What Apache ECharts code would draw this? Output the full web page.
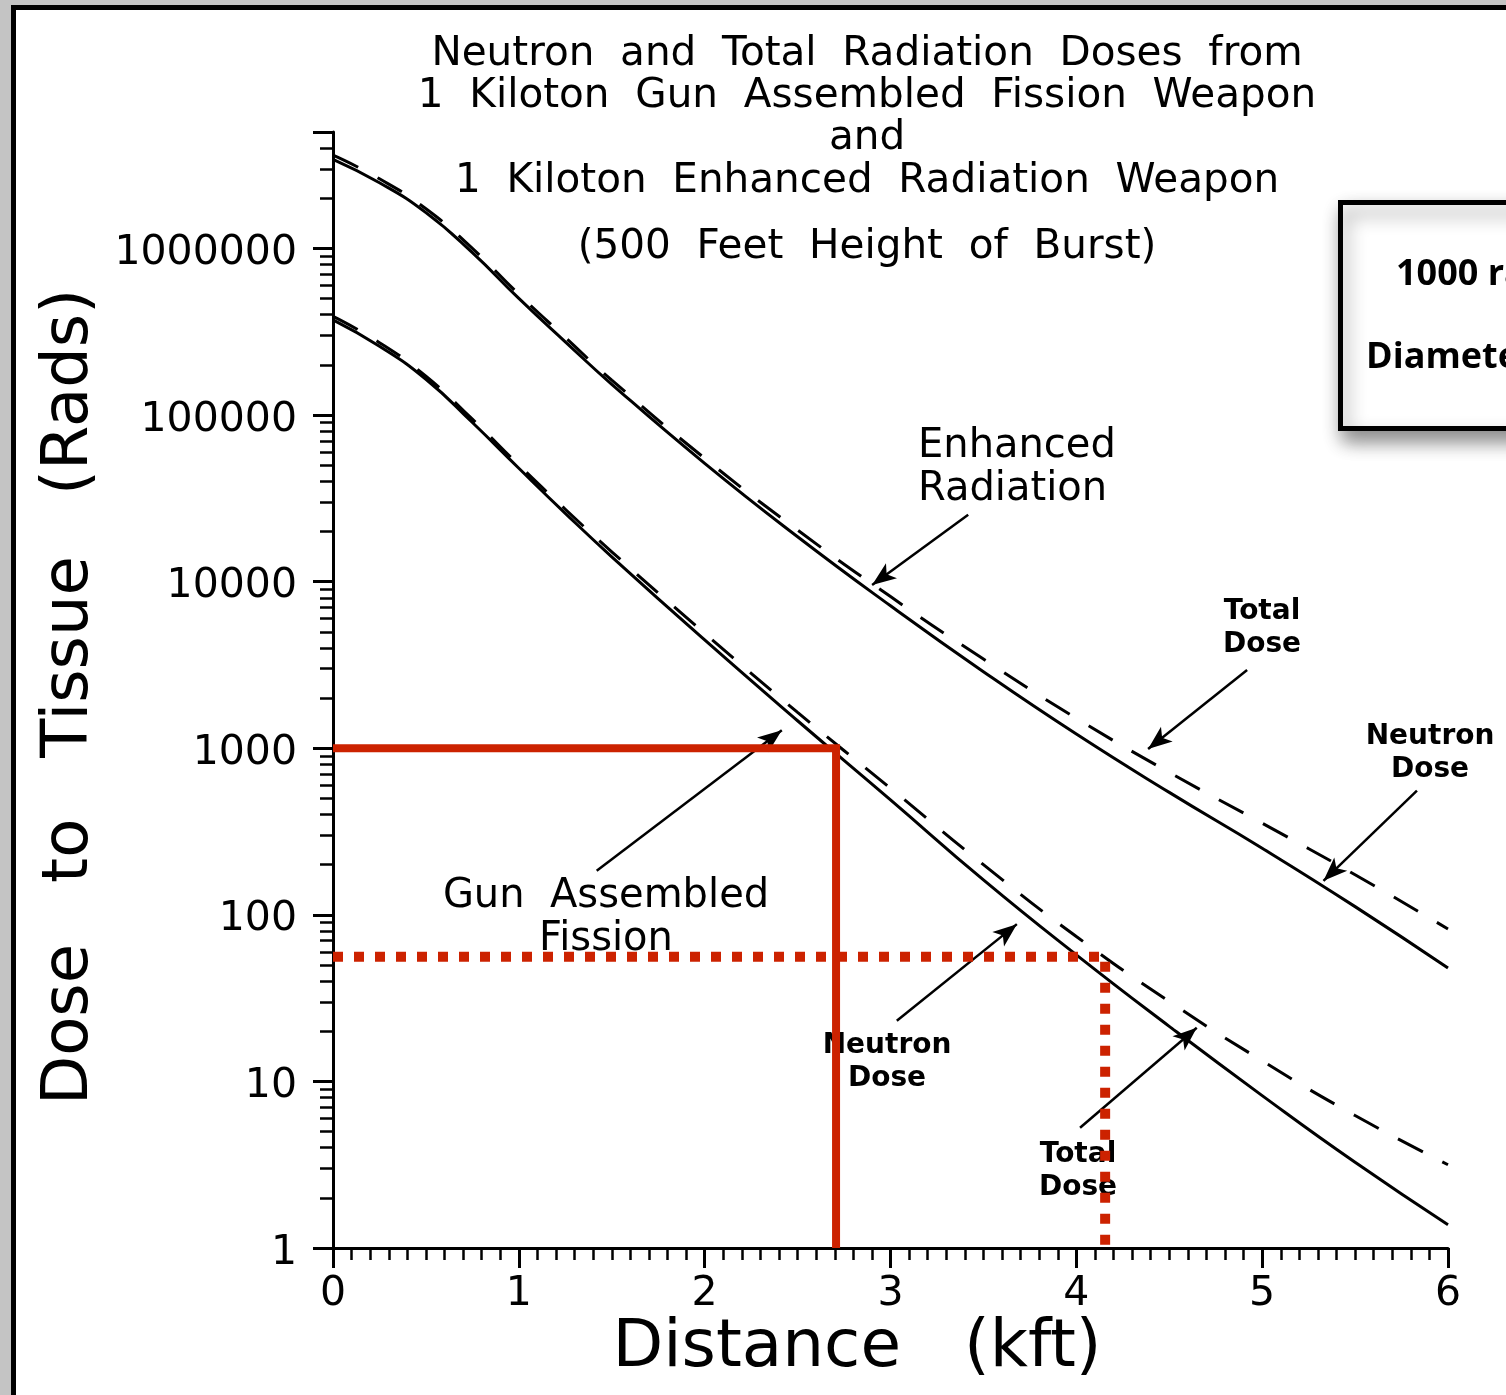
<!DOCTYPE html>
<html>
<head>
<meta charset="utf-8">
<script src="https://cdn.jsdelivr.net/npm/echarts@6/dist/echarts.min.js"></script>
<style>
html,body{margin:0;padding:0;background:#c4c4c4;}
#chart{width:1506px;height:1395px;}
</style>
</head>
<body>
<div id="chart"></div>
<script>
// Distance (kft)
var distances = [0, 0.25, 0.5, 0.75, 1, 1.25, 1.5, 2, 2.5, 3, 3.5, 4, 4.5, 5, 5.5, 6];
// Enhanced radiation weapon (rads)
var erNeutronDose = [3.43e6, 2.48e6, 1.64e6, 9.44e5, 5.01e5, 2.75e5, 1.53e5, 5.13e4, 1.86e4, 7160, 2880, 1216, 543, 251, 112, 47.9];
var erTotalDose   = [3.63e6, 2.62e6, 1.73e6, 1.0e6, 5.31e5, 2.92e5, 1.62e5, 5.5e4, 2.04e4, 8130, 3430, 1514, 716, 355, 174, 82.2];
// Gun assembled fission weapon (rads)
var gunNeutronDose = [3.73e5, 2.59e5, 1.64e5, 9.02e4, 4.79e4, 2.57e4, 1.41e4, 4467, 1462, 490, 162, 57.5, 21.4, 8.22, 3.27, 1.38];
var gunTotalDose   = [3.91e5, 2.72e5, 1.71e5, 9.44e4, 5.01e4, 2.72e4, 1.51e4, 4898, 1641, 575, 200, 74.1, 30.2, 13.3, 6.24, 3.16];
// Red guide lines [distance, dose]
var guide1000 = [[0, 1000], [2.707, 1000], [2.707, 1]];
var guide56 = [[0, 56], [4.155, 56], [4.155, 1]];
// Annotation arrows [fromX, fromY, toX, toY]
var arrows = [
  [3.418, 25200, 2.901, 9550],
  [4.919, 2950, 4.386, 988],
  [5.833, 557, 5.330, 160],
  [1.419, 184, 2.415, 1280],
  [3.034, 23.1, 3.680, 87.9],
  [4.020, 5.27, 4.648, 21.0]
];
var xTicks = [0, 1, 2, 3, 4, 5, 6];
var titleLines = [
  'Neutron  and  Total  Radiation  Doses  from',
  '1  Kiloton  Gun  Assembled  Fission  Weapon',
  'and',
  '1  Kiloton  Enhanced  Radiation  Weapon',
  '(500  Feet  Height  of  Burst)'
];

function pairs(xs, ys) { return xs.map(function (x, i) { return [x, ys[i]]; }); }

var FONT = '"DejaVu Sans"';
var chart = echarts.init(document.getElementById('chart'), null, {renderer: 'canvas'});

var titleY = [54, 96, 138, 181, 247];
var graphics = [
  {type: 'rect', z: -100, shape: {x: 13.5, y: 7.5, width: 1600, height: 1500},
   style: {fill: '#ffffff', stroke: '#000000', lineWidth: 5}},
  {type: 'rect', z: 10, shape: {x: 1340.5, y: 202.5, width: 300, height: 226},
   style: {fill: '#ffffff', stroke: '#000000', lineWidth: 5, shadowBlur: 18, shadowOffsetX: 4, shadowOffsetY: 10, shadowColor: 'rgba(0,0,0,0.45)'}},
  {type: 'text', z: 11, x: 1396, y: 275, style: {text: '1000 rad', font: 'bold 36px "Open Sans"', fill: '#000', align: 'left', verticalAlign: 'middle'}},
  {type: 'text', z: 11, x: 1366, y: 358, style: {text: 'Diameter', font: 'bold 36px "Open Sans"', fill: '#000', align: 'left', verticalAlign: 'middle'}},
  {type: 'text', x: 857, y: 1349, style: {text: 'Distance   (kft)', font: '66px ' + FONT, fill: '#000', align: 'center', verticalAlign: 'middle'}},
  {type: 'text', x: 70, y: 697, rotation: Math.PI / 2, style: {text: 'Dose   to   Tissue   (Rads)', font: '64px ' + FONT, fill: '#000', align: 'center', verticalAlign: 'middle'}}
];
titleLines.forEach(function (t, i) {
  graphics.push({type: 'text', x: 867, y: titleY[i], style: {text: t, font: '40.5px ' + FONT, fill: '#000', align: 'center', verticalAlign: 'middle'}});
});
function ann(text, x, y, font, align, lh) {
  graphics.push({type: 'text', x: x, y: y, style: {text: text, font: font, fill: '#000', align: align, verticalAlign: 'top', lineHeight: lh}});
}
ann('Enhanced\nRadiation', 918, 425, '40px ' + FONT, 'left', 43);
ann('Total\nDose', 1262, 595, 'bold 28px ' + FONT, 'center', 33);
ann('Neutron\nDose', 1430, 720, 'bold 28px ' + FONT, 'center', 33);
ann('Gun  Assembled\nFission', 606, 875, '40px ' + FONT, 'center', 43);
ann('Neutron\nDose', 887, 1029, 'bold 28px ' + FONT, 'center', 33);
ann('Total\nDose', 1078, 1138, 'bold 28px ' + FONT, 'center', 33);

var black = '#000000';
var red = '#cc2200';

var option = {
  backgroundColor: '#c4c4c4',
  animation: false,
  grid: {left: 333, right: 58, top: 132, bottom: 147, containLabel: false},
  xAxis: {
    type: 'value', min: 0, max: 6, interval: 1,
    axisLine: {show: true, onZero: false, lineStyle: {color: black, width: 3}},
    axisTick: {show: true, length: 20, lineStyle: {color: black, width: 3}},
    minorTick: {show: true, splitNumber: 10, length: 12, lineStyle: {color: black, width: 2.5}},
    splitLine: {show: false},
    axisLabel: {margin: 26, fontFamily: 'DejaVu Sans', fontSize: 41, color: black,
      formatter: function (v) { return xTicks.indexOf(v) >= 0 ? String(v) : ''; }}
  },
  yAxis: {
    type: 'log', logBase: 10, min: 1, max: 5e6,
    axisLine: {show: true, onZero: false, lineStyle: {color: black, width: 3}},
    axisTick: {show: true, length: 20, lineStyle: {color: black, width: 3}},
    minorTick: {show: true, splitNumber: 9, length: 13, lineStyle: {color: black, width: 2.5}},
    splitLine: {show: false},
    axisLabel: {margin: 36, showMaxLabel: false, color: black,
      formatter: function (v) { return '{a|' + String(Math.round(v)) + '}'; },
      rich: {a: {fontFamily: 'DejaVu Sans', fontSize: 41, color: black, padding: [10, 0, 0, 0]}}}
  },
  graphic: graphics,
  series: [
    {name: 'ER Neutron', type: 'line', data: pairs(distances, erNeutronDose), smooth: 0.5, symbol: 'none',
     lineStyle: {color: black, width: 3}},
    {name: 'ER Total', type: 'line', data: pairs(distances, erTotalDose), smooth: 0.5, symbol: 'none',
     lineStyle: {color: black, width: 3, type: [28, 22]}},
    {name: 'Gun Neutron', type: 'line', data: pairs(distances, gunNeutronDose), smooth: 0.5, symbol: 'none',
     lineStyle: {color: black, width: 3}},
    {name: 'Gun Total', type: 'line', data: pairs(distances, gunTotalDose), smooth: 0.5, symbol: 'none',
     lineStyle: {color: black, width: 3, type: [28, 22]}},
    {name: 'Guide 1000', type: 'line', data: guide1000, symbol: 'none', z: 5,
     lineStyle: {color: red, width: 8, cap: 'butt', join: 'miter'}},
    {name: 'Guide 56', type: 'line', data: guide56, symbol: 'none', z: 5,
     lineStyle: {color: red, width: 10, type: [10, 11], cap: 'butt'}},
    {name: 'Arrows', type: 'line', data: [], symbol: 'none',
     markLine: {silent: true, symbol: ['none', 'arrow'], symbolSize: [14, 24], precision: 6,
       label: {show: false}, lineStyle: {color: black, width: 2.5, type: 'solid'},
       data: arrows.map(function (a) { return [{coord: [a[0], a[1]]}, {coord: [a[2], a[3]]}]; })}}
  ]
};
chart.setOption(option);
</script>
</body>
</html>
